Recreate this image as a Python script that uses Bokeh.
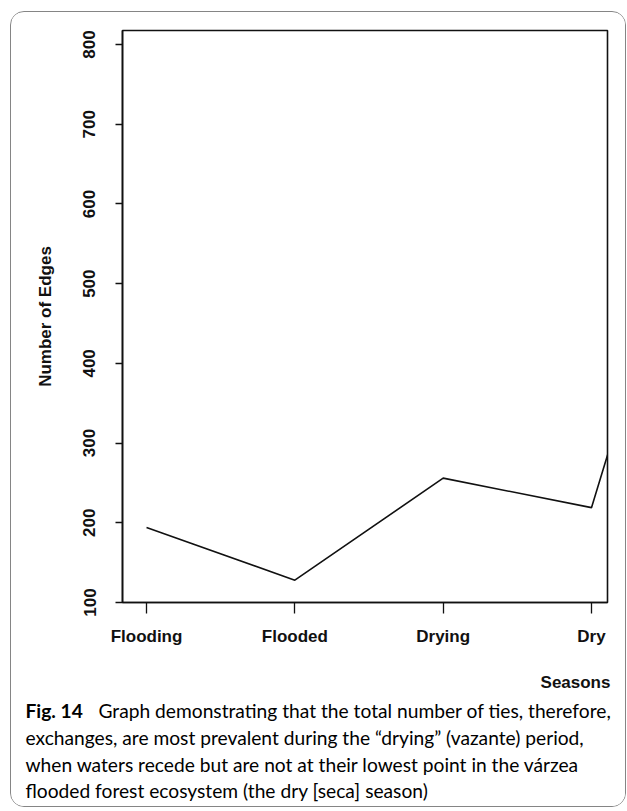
from bokeh.plotting import figure
from bokeh.models import Range1d, FixedTicker
from bokeh.layouts import column
from bokeh.core.properties import value
from bokeh.embed import file_html
from bokeh.resources import INLINE

# ---- data ----
seasons = ["Flooding", "Flooded", "Drying", "Dry", "(next, off-frame)"]
season_pos = [1, 2, 3, 4, 5]
edges = [194, 128, 256, 219, 830]
y_ticks = [100, 200, 300, 400, 500, 600, 700, 800]

x_title = "Seasons"
caption_bold = "Fig. 14"
caption_lines = [
    "Graph demonstrating that the total number of ties, therefore,",
    "exchanges, are most prevalent during the \u201cdrying\u201d (vazante) period,",
    "when waters recede but are not at their lowest point in the v\u00e1rzea",
    "flooded forest ecosystem (the dry [seca] season)",
]

# layout: bordered column starts at page (10, 11); children start at (11, 12)
W = 614
H1, H2 = 641, 153
FL, FR, FT, FB = 111, 596, 18, 590  # chart frame edges in p canvas px

tick_font = "Liberation Sans"
tick_size = "17px"
ink = "#111111"

p = figure(width=W, height=H1, output_backend="svg", toolbar_location=None,
           x_range=Range1d(0.838, 4.108), y_range=Range1d(100, 817.6),
           min_border_left=FL, min_border_right=W - FR,
           min_border_top=FT, min_border_bottom=H1 - FB,
           frame_align=False)
p.grid.visible = False
p.background_fill_color = "white"
p.border_fill_color = "white"
p.outline_line_color = ink
p.outline_line_width = 1.6

p.line(season_pos, edges, line_color=ink, line_width=1.6)

p.xaxis.ticker = FixedTicker(ticks=season_pos[:4])
p.xaxis.major_label_overrides = {pos: lab for pos, lab in zip(season_pos[:4], seasons[:4])}
p.xaxis.major_tick_out = 11
p.xaxis.major_tick_in = 0
p.xaxis.minor_tick_line_color = None
p.xaxis.axis_line_color = ink
p.xaxis.axis_line_width = 1.6
p.xaxis.major_tick_line_width = 1.3
p.xaxis.major_tick_line_color = ink
p.xaxis.major_label_text_font = tick_font
p.xaxis.major_label_text_font_style = "bold"
p.xaxis.major_label_text_font_size = tick_size
p.xaxis.major_label_text_color = ink
p.xaxis.major_label_standoff = 13

p.yaxis.ticker = FixedTicker(ticks=y_ticks)
p.yaxis.major_label_orientation = "vertical"
p.yaxis.major_tick_out = 7
p.yaxis.major_tick_in = 0
p.yaxis.minor_tick_line_color = None
p.yaxis.axis_line_color = ink
p.yaxis.axis_line_width = 1.6
p.yaxis.major_tick_line_width = 1.3
p.yaxis.major_tick_line_color = ink
p.yaxis.major_label_text_font = tick_font
p.yaxis.major_label_text_font_style = "bold"
p.yaxis.major_label_text_font_size = tick_size
p.yaxis.major_label_text_color = ink
p.yaxis.major_label_standoff = 20
p.yaxis.axis_label = "Number of Edges"
p.yaxis.axis_label_text_font = tick_font
p.yaxis.axis_label_text_font_style = "bold"
p.yaxis.axis_label_text_font_size = tick_size
p.yaxis.axis_label_text_color = ink
p.yaxis.axis_label_standoff = 26

# ---- caption panel: pixel-like data coordinates (y grows downward) ----
q = figure(width=W, height=H2, output_backend="svg", toolbar_location=None,
           x_range=Range1d(0, W), y_range=Range1d(H2, 0),
           x_axis_type=None, y_axis_type=None, min_border=0,
           frame_align=False)
q.grid.visible = False
q.outline_line_color = None
q.background_fill_color = "white"
q.border_fill_color = "white"

q.text(x=[564], y=[29], text=[x_title], text_align="center",
       text_baseline="alphabetic", text_font=value(tick_font),
       text_font_style="bold", text_font_size=tick_size, text_color=ink)

cap_font = "Lato"
cap_size = "19.2px"
base_y = [57, 84, 111, 137]
q.text(x=[14], y=[base_y[0]], text=[caption_bold], text_align="left",
       text_baseline="alphabetic", text_font=value(cap_font),
       text_font_style="bold", text_font_size=cap_size, text_color="#000000")
q.text(x=[87] + [14] * 3, y=base_y, text=caption_lines, text_align="left",
       text_baseline="alphabetic", text_font=value(cap_font),
       text_font_size=cap_size, text_color="#000000")

layout = column(p, q, spacing=0,
                styles={"border": "1.2px solid #858585", "border-radius": "14px",
                        "margin-left": "10px", "margin-top": "11px",
                        "overflow": "hidden", "background-color": "white"})

open("out.html", "w").write(file_html(layout, INLINE))
